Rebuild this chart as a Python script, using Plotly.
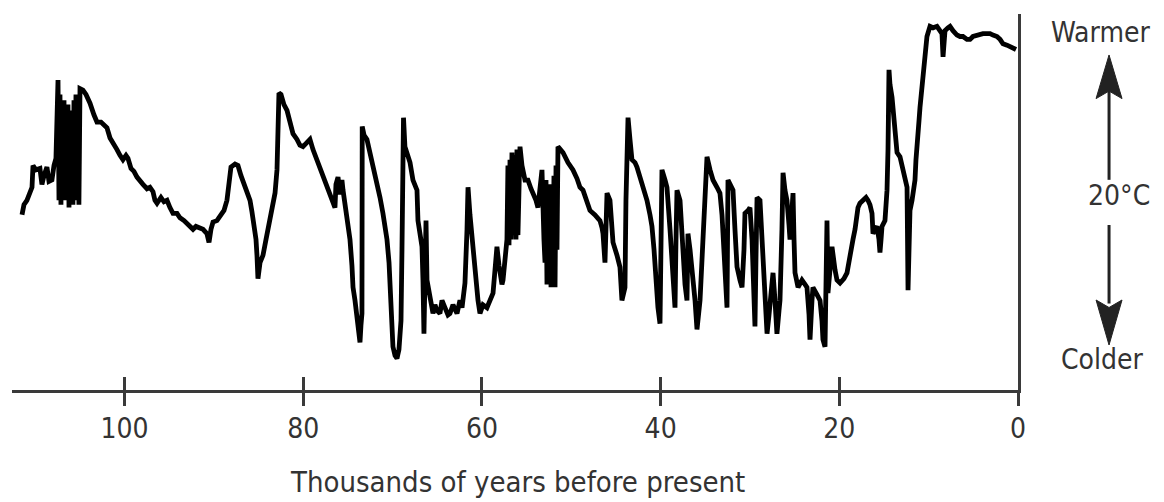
import plotly.graph_objects as go

# Age (thousands of years before present) and relative temperature (deg C)
age_a = [111.48,111.26,110.93,110.59,110.36,110.25,109.92,109.47,109.25,109.02,108.69,108.46,108.13,107.90,107.68,107.45,
         107.34,107.23,107.12,107.01,106.89,106.78,106.67,106.56,106.45,106.34,106.22,106.11,106.00,105.89,105.78,105.66,
         105.55,105.44,105.33,105.22,105.11,104.99,104.66,104.32,103.87,103.43,103.09,102.64,102.31,101.97,101.63,101.30,
         100.85,100.51,100.18,99.84,99.62,99.28,98.95,98.61,98.28,97.94,97.49,97.16,96.82,96.60,96.37,95.93,95.59,95.25,
         94.92,94.58,94.13,93.80,93.35,93.02,92.68,92.34,92.01,91.56,91.22,90.78,90.55,90.33,90.10,89.66,89.32,88.87,88.54,
         88.31,88.09,87.64,87.31,86.97,86.63,86.30,85.96,85.74,85.52,85.29,85.18,85.07,84.84,84.51,84.17,83.95,83.72,83.39,
         83.16,82.94,82.83,82.72]
temp_a = [-43.4,-42.7,-42.4,-41.7,-41.5,-40.0,-40.3,-40.2,-41.3,-40.7,-40.1,-41.1,-41.0,-40.0,-39.5,-34.1,
          -42.4,-35.1,-42.7,-36.2,-41.7,-35.5,-42.4,-36.9,-42.0,-35.8,-42.9,-36.5,-42.4,-36.2,-42.7,-35.5,
          -42.0,-35.1,-42.4,-36.2,-42.7,-34.7,-34.8,-35.1,-35.7,-36.5,-37.0,-37.0,-37.2,-37.4,-38.1,-38.4,
          -38.9,-39.3,-39.6,-39.3,-39.5,-40.2,-40.4,-40.8,-41.0,-41.3,-41.6,-41.5,-41.8,-42.4,-42.6,-42.2,-42.5,-42.4,
          -42.9,-43.3,-43.3,-43.6,-43.8,-44.0,-44.2,-44.4,-44.2,-44.3,-44.4,-44.7,-45.3,-44.4,-43.9,-43.8,-43.5,-43.1,-42.4,
          -41.0,-40.1,-39.9,-40.0,-40.7,-41.3,-41.8,-42.4,-43.2,-44.1,-45.1,-46.2,-47.8,-46.7,-46.2,-45.1,-44.3,-43.8,-42.7,
          -41.9,-40.3,-38.2,-35.0]

age_b = [82.49,82.16,81.82,81.49,81.15,80.70,80.37,80.03,79.58,79.25,78.91,78.46,78.13,77.79,77.46,77.01,76.67,76.45,
         76.34,76.11,75.89,75.67,75.55,75.33,75.11,74.88,74.77,74.55,74.43,74.21,73.88,73.65,73.54,73.43,73.40,73.20,
         72.87,72.53,72.20,71.86,71.41,71.08,70.85,70.63,70.40,70.29,70.07,69.96,69.73,69.51,69.29,69.06,68.95,68.84,
         68.78,68.62,68.28,68.05,67.72,67.49,67.27,67.16,66.93,66.71,66.60,66.49,66.38,66.26,66.15,65.93,65.82,65.48,
         65.26,65.03,64.70,64.47,64.14,63.80,63.58,63.24,62.79,62.46,62.23,62.01,61.90,61.67,61.56,61.34,61.11,60.89,
         60.78,60.44,60.22,59.88,59.44,59.10,58.76,58.54,58.32,58.09,57.98,57.76,57.64,57.42,57.20,57.09,56.97,56.86,
         56.75,56.64,56.53,56.41,56.19,56.08,55.97,55.74,55.52,55.18,54.85,54.51,54.29,53.95,53.73,53.50,53.28,53.06,
         52.94,52.83,52.72,52.61,52.50,52.38,52.27,52.16,52.05,51.94,51.82,51.71,51.60,51.49,50.93,50.37,49.81,49.36,49.03]
temp_b = [-35.1,-35.8,-36.2,-36.9,-37.8,-38.2,-38.6,-38.7,-38.4,-38.2,-38.9,-39.6,-40.2,-40.8,-41.3,-41.9,-42.4,-42.9,
          -41.3,-40.8,-42.0,-41.0,-41.7,-42.7,-43.8,-44.6,-45.1,-46.9,-48.4,-49.3,-50.7,-52.2,-51.0,-50.2,-37.3,-37.9,
          -38.2,-39.1,-39.8,-40.7,-42.2,-43.3,-44.1,-45.1,-46.7,-47.9,-50.7,-52.5,-53.1,-53.3,-52.7,-50.7,-45.8,-41.0,
          -36.7,-38.7,-39.5,-39.8,-41.0,-41.3,-41.7,-43.8,-44.8,-45.6,-47.9,-51.6,-47.9,-43.8,-47.9,-48.6,-49.1,-50.2,
          -49.6,-50.0,-50.2,-49.3,-49.8,-50.3,-50.2,-49.6,-50.2,-49.3,-49.8,-48.6,-48.1,-44.4,-41.5,-43.4,-45.1,-46.7,
          -47.4,-49.3,-50.2,-49.6,-49.8,-49.3,-48.8,-47.2,-45.6,-46.9,-47.4,-48.2,-47.9,-46.5,-45.1,-40.0,-45.5,-39.6,
          -45.1,-39.1,-44.4,-39.3,-45.1,-38.9,-44.8,-38.7,-40.0,-41.0,-41.0,-41.6,-41.9,-42.4,-42.9,-41.3,-40.3,-45.1,
          -46.7,-41.0,-48.2,-41.7,-47.9,-41.3,-48.4,-42.9,-48.2,-40.7,-48.4,-40.0,-45.8,-38.7,-39.1,-39.8,-40.3,-40.9,-41.5]

age_c = [48.69,48.24,47.91,47.35,46.79,46.56,46.45,46.23,46.12,46.00,45.67,45.44,45.33,44.88,44.55,44.33,44.10,43.99,
         43.88,43.65,43.43,43.21,42.87,42.65,42.31,42.09,41.75,41.53,41.19,40.97,40.74,40.63,40.41,40.30,40.07,39.96,
         39.85,39.51,39.29,38.95,38.73,38.50,38.39,38.28,38.17,37.83,37.61,37.50,37.27,37.05,36.94,36.71,36.49,36.15,
         35.93,35.71,35.59,35.37,35.26,35.03,34.81,34.47,34.14,33.69,33.36,33.13,33.02,32.80,32.57,32.46,32.24,31.90,
         31.68,31.45,31.12,30.89,30.67,30.56,30.22,30.00,29.77,29.66,29.55,29.44,29.33,29.21,28.88,28.65,28.54,28.32,
         28.09,27.87,27.76,27.54,27.42,27.20,26.98,26.75,26.64,26.42,26.30,26.08,25.86,25.63,25.52,25.30,25.18,25.07,
         24.96,24.62,24.40,24.18,23.84,23.62,23.39,23.28,23.06,22.95,22.50,22.16,21.94,21.83,21.60,21.49,21.38,21.27,
         21.04,20.82,20.48,20.26,19.92]
temp_c = [-41.7,-42.4,-43.1,-43.4,-43.8,-44.3,-44.7,-46.7,-44.4,-41.9,-42.4,-44.1,-45.3,-46.2,-47.0,-49.3,-48.6,-48.4,
          -42.4,-36.7,-38.2,-39.6,-39.8,-40.1,-40.8,-41.2,-41.8,-42.4,-43.4,-44.2,-45.8,-47.0,-48.6,-49.8,-50.9,-45.8,
          -40.3,-41.0,-41.5,-44.4,-46.5,-48.6,-49.8,-45.1,-41.7,-42.4,-45.1,-47.0,-48.2,-49.3,-44.7,-45.8,-47.0,-49.3,
          -51.3,-50.3,-49.3,-46.5,-44.7,-41.7,-39.4,-40.3,-41.0,-41.5,-41.9,-43.4,-44.7,-47.2,-49.8,-41.0,-41.3,-41.7,
          -44.4,-47.0,-47.9,-48.4,-45.8,-43.3,-43.1,-42.9,-45.1,-47.0,-49.3,-51.1,-46.5,-42.2,-42.4,-45.1,-47.0,-49.3,
          -51.6,-50.3,-49.3,-48.2,-47.4,-49.3,-51.6,-50.0,-49.3,-44.4,-40.5,-41.7,-42.4,-44.1,-45.1,-43.1,-41.9,-45.1,
          -47.4,-48.4,-48.1,-47.9,-48.2,-48.4,-50.3,-52.0,-49.3,-48.4,-48.9,-49.3,-50.7,-52.0,-52.5,-47.9,-43.8,-48.8,
          -47.2,-45.6,-47.2,-47.9,-48.1]

age_d = [19.48,19.14,18.80,18.47,18.24,17.91,17.69,17.35,17.01,16.79,16.57,16.34,16.23,16.01,15.78,15.56,15.45,15.33,
         15.22,14.89,14.66,14.55,14.44,14.33,14.10,13.88,13.77,13.54,13.21,12.98,12.87,12.65,12.42,12.31,12.20,12.09,
         11.86,11.64,11.53,11.42,11.31,11.08,10.97,10.75,10.63,10.41,10.19,9.85,9.51,9.07,8.73,8.51,8.39,8.28,8.17,
         7.84,7.61,7.28,6.83,6.49,6.16,5.71,5.37,5.04,4.59,4.25,3.92,3.47,3.13,2.80,2.35,2.01,1.68,1.23,0.90,0.56,0.22]
temp_d = [-47.8,-47.4,-46.0,-45.1,-44.4,-42.9,-42.6,-42.4,-42.2,-42.4,-42.7,-43.3,-44.7,-44.4,-44.2,-45.1,-46.0,-45.1,
          -44.2,-43.8,-41.7,-38.9,-33.4,-34.4,-35.3,-36.9,-37.8,-39.1,-39.4,-40.0,-40.5,-41.0,-41.5,-48.6,-45.8,-43.1,
          -42.4,-41.7,-41.0,-39.6,-38.2,-36.9,-36.0,-34.8,-33.9,-32.4,-31.1,-30.4,-30.5,-30.4,-30.7,-30.9,-32.5,-31.3,-30.7,
          -30.5,-30.4,-30.7,-31.0,-31.1,-31.1,-31.3,-31.3,-31.1,-31.0,-30.9,-30.9,-30.9,-30.9,-31.0,-31.1,-31.3,-31.6,-31.7,-31.8,-31.9,-32.0]

tick_values = [100, 80, 60, 40, 20, 0]
tick_labels = ["100", "80", "60", "40", "20", "0"]
x_title = "Thousands of years before present"
side_labels = ["Warmer", "20°C", "Colder"]

ages = age_a + age_b + age_c + age_d
temps = temp_a + temp_b + temp_c + temp_d

FONT = "Liberation Sans Narrow, DejaVu Sans Condensed, Arial Narrow, sans-serif"
TXT = "#333333"
AX = "#3a3a3a"

fig = go.Figure()
fig.add_trace(go.Scatter(x=ages, y=temps, mode="lines",
                         line=dict(color="black", width=4.8), hoverinfo="skip", showlegend=False))
# invisible trace to activate the overlay axis that carries the upper tick halves and labels
fig.add_trace(go.Scatter(x=[None], y=[None], xaxis="x2", yaxis="y", showlegend=False, hoverinfo="skip"))

fig.update_layout(
    width=1164, height=502,
    margin=dict(l=12, r=146, t=14, b=112),
    paper_bgcolor="white", plot_bgcolor="white",
    font=dict(family=FONT, color=TXT, size=27),
    xaxis=dict(range=[112.6, 0], tickmode="array", tickvals=tick_values,
               ticks="outside", ticklen=13, tickwidth=2.5, tickcolor=AX, showticklabels=False,
               showline=True, linewidth=3, linecolor=AX, showgrid=False, zeroline=False),
    xaxis2=dict(range=[112.6, 0], overlaying="x", anchor="y", side="bottom", tickmode="array",
                tickvals=tick_values, ticktext=tick_labels, ticks="inside", ticklen=13, tickwidth=2.5,
                tickcolor=AX, showticklabels=True, ticklabelstandoff=19,
                tickfont=dict(family=FONT, size=28, color=TXT),
                showline=False, showgrid=False, zeroline=False),
    yaxis=dict(range=[-55.48, -29.55], side="right", showline=True, linewidth=2.5, linecolor=AX,
               ticks="", showticklabels=False, showgrid=False, zeroline=False),
)

fig.add_annotation(text=x_title, xref="paper", yref="paper", x=0.502, y=-0.2447,
                   xanchor="center", yanchor="middle", showarrow=False,
                   font=dict(family=FONT, size=29, color=TXT))

label_pos = [(1.0825, 0.9495), (1.1004, 0.5186), (1.0835, 0.0824)]
for txt, (xp, yp) in zip(side_labels, label_pos):
    fig.add_annotation(text=txt, xref="paper", yref="paper", x=xp, y=yp, xanchor="center", yanchor="middle",
                       showarrow=False, font=dict(family=FONT, size=28, color=TXT))

# scale arrows
ax_x = 1.0905
hw = 0.0129
fig.add_shape(type="line", xref="paper", yref="paper", x0=ax_x, x1=ax_x, y0=0.559, y1=0.80,
              line=dict(color="#222222", width=3))
fig.add_shape(type="path", xref="paper", yref="paper",
              path=f"M {ax_x} 0.891 L {ax_x-hw} 0.775 L {ax_x} 0.795 L {ax_x+hw} 0.775 Z",
              fillcolor="#222222", line=dict(color="#222222", width=1))
fig.add_shape(type="line", xref="paper", yref="paper", x0=ax_x, x1=ax_x, y0=0.4388, y1=0.23,
              line=dict(color="#222222", width=3))
fig.add_shape(type="path", xref="paper", yref="paper",
              path=f"M {ax_x} 0.1197 L {ax_x-hw} 0.2394 L {ax_x} 0.2194 L {ax_x+hw} 0.2394 Z",
              fillcolor="#222222", line=dict(color="#222222", width=1))

fig.write_html("out.html")
